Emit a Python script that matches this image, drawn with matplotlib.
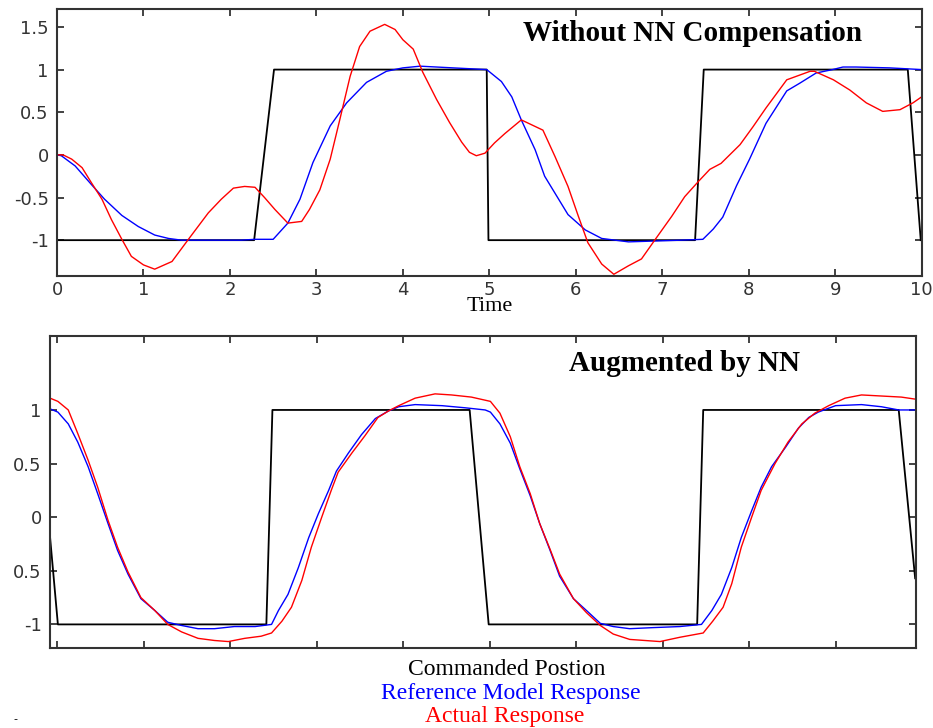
import numpy as np
import matplotlib
matplotlib.use('Agg')
import matplotlib.pyplot as plt

# top panel: without NN compensation
cmd1_t = [0, 2.28, 2.51, 4.97, 4.99, 7.38, 7.48, 9.84, 9.99]
cmd1_y = [-1, -1, 1, 1, -1, -1, 1, 1, -1]

ref1_t = [0, 0.05, 0.21, 0.40, 0.55, 0.75, 0.94, 1.13, 1.29, 1.44, 2.13, 2.29, 2.5, 2.67, 2.81, 2.96, 3.16, 3.35, 3.58, 3.81,
          4.0, 4.2, 4.58, 4.97, 5.14, 5.26, 5.37, 5.53, 5.64, 5.76, 5.91, 6.11, 6.30, 6.61, 7.22, 7.47, 7.59, 7.70, 7.86, 8.01,
          8.20, 8.44, 8.59, 8.78, 8.97, 9.09, 9.24, 9.63, 10.0]
ref1_y = [0, -0.01, -0.13, -0.35, -0.52, -0.71, -0.84, -0.94, -0.98, -1.0, -1.0, -0.99, -0.99, -0.80, -0.52, -0.09, 0.34, 0.61, 0.85, 0.98,
          1.02, 1.04, 1.02, 1.0, 0.86, 0.68, 0.41, 0.06, -0.25, -0.45, -0.70, -0.88, -0.98, -1.02, -1.0, -0.99, -0.87, -0.73, -0.36, -0.05,
          0.37, 0.75, 0.84, 0.96, 1.0, 1.03, 1.03, 1.02, 1.0]

act1_t = [0, 0.07, 0.17, 0.29, 0.40, 0.52, 0.63, 0.75, 0.86, 1.0, 1.13, 1.33, 1.52, 1.75, 1.9, 2.04, 2.17, 2.29, 2.40, 2.52,
          2.67, 2.83, 2.92, 3.04, 3.16, 3.27, 3.39, 3.50, 3.62, 3.79, 3.91, 4.0, 4.12, 4.23, 4.39, 4.54, 4.68, 4.77, 4.85, 4.95,
          5.06, 5.18, 5.37, 5.62, 5.76, 5.91, 6.03, 6.14, 6.30, 6.44, 6.61, 6.76, 6.92, 7.11, 7.26, 7.42, 7.55, 7.68, 7.90, 8.05,
          8.20, 8.44, 8.71, 8.76, 8.98, 9.17, 9.36, 9.55, 9.75, 9.90, 10.0]
act1_y = [0, 0, -0.05, -0.15, -0.33, -0.52, -0.76, -0.99, -1.19, -1.29, -1.34, -1.25, -0.99, -0.68, -0.52, -0.39, -0.37, -0.38, -0.50, -0.64,
          -0.80, -0.78, -0.64, -0.41, -0.05, 0.41, 0.92, 1.27, 1.45, 1.53, 1.47, 1.35, 1.24, 0.97, 0.65, 0.38, 0.15, 0.03, -0.01, 0.02,
          0.14, 0.25, 0.41, 0.29, -0.02, -0.37, -0.72, -1.03, -1.28, -1.40, -1.30, -1.22, -0.99, -0.72, -0.49, -0.31, -0.17, -0.10, 0.12, 0.33,
          0.55, 0.88, 0.98, 0.98, 0.88, 0.76, 0.61, 0.51, 0.53, 0.61, 0.68]

# bottom panel: augmented by NN
cmd2_t = [-0.08, 0.01, 2.42, 2.49, 4.77, 4.99, 7.40, 7.47, 9.73, 9.92]
cmd2_y = [-0.19, -1, -1, 1, 1, -1, -1, 1, 1, -0.57]

ref2_t = [-0.08, 0.01, 0.13, 0.24, 0.36, 0.47, 0.59, 0.70, 0.82, 0.97, 1.13, 1.28, 1.44, 1.63, 1.82, 2.05, 2.29, 2.48, 2.56, 2.67,
          2.79, 2.91, 3.02, 3.14, 3.23, 3.37, 3.52, 3.68, 3.83, 3.95, 4.14, 4.45, 4.72, 4.95, 5.01, 5.12, 5.24, 5.35, 5.47, 5.58,
          5.70, 5.81, 5.97, 6.12, 6.28, 6.43, 6.62, 6.89, 7.20, 7.45, 7.57, 7.68, 7.80, 7.91, 8.03, 8.14, 8.26, 8.42, 8.57, 8.69,
          8.80, 9.00, 9.30, 9.53, 9.73, 9.93]
ref2_y = [1.01, 0.98, 0.87, 0.70, 0.47, 0.22, -0.06, -0.31, -0.53, -0.76, -0.87, -0.98, -1.01, -1.04, -1.04, -1.02, -1.02, -1.0, -0.87, -0.72,
          -0.47, -0.19, 0.03, 0.25, 0.43, 0.60, 0.77, 0.92, 0.99, 1.03, 1.05, 1.04, 1.02, 1.0, 0.98, 0.87, 0.69, 0.45, 0.20, -0.06,
          -0.31, -0.55, -0.76, -0.87, -0.99, -1.02, -1.04, -1.03, -1.02, -1.0, -0.87, -0.72, -0.47, -0.19, 0.06, 0.28, 0.47, 0.65, 0.83, 0.93,
          0.98, 1.04, 1.05, 1.03, 1.0, 1.0]

act2_t = [-0.08, 0.01, 0.13, 0.24, 0.36, 0.47, 0.59, 0.70, 0.82, 0.97, 1.13, 1.28, 1.44, 1.63, 1.82, 1.98, 2.17, 2.36, 2.48, 2.60,
          2.71, 2.83, 2.94, 3.06, 3.17, 3.25, 3.41, 3.56, 3.71, 3.83, 3.95, 4.14, 4.37, 4.56, 4.79, 5.01, 5.12, 5.24, 5.35, 5.47,
          5.58, 5.70, 5.81, 5.97, 6.12, 6.28, 6.43, 6.62, 6.97, 7.20, 7.47, 7.58, 7.70, 7.80, 7.91, 8.03, 8.14, 8.30, 8.45, 8.61,
          8.76, 8.92, 9.11, 9.30, 9.53, 9.76, 9.93]
act2_y = [1.11, 1.08, 1.0, 0.78, 0.53, 0.28, -0.03, -0.28, -0.51, -0.75, -0.87, -1.0, -1.07, -1.13, -1.15, -1.16, -1.13, -1.11, -1.08, -0.97,
          -0.84, -0.59, -0.28, 0.0, 0.25, 0.42, 0.60, 0.76, 0.93, 0.99, 1.04, 1.11, 1.15, 1.14, 1.12, 1.08, 0.97, 0.75, 0.47, 0.22,
          -0.06, -0.30, -0.53, -0.76, -0.89, -1.01, -1.09, -1.14, -1.16, -1.12, -1.08, -0.97, -0.84, -0.62, -0.28, 0.0, 0.25, 0.50, 0.70, 0.87,
          0.97, 1.04, 1.11, 1.14, 1.13, 1.12, 1.10]

top_yticks = [-1, -0.5, 0, 0.5, 1, 1.5]
top_ylabels = ['-1', '-0.5', '0', '0.5', '1', '1.5']
bot_yticks = [-1, -0.5, 0, 0.5, 1]
bot_ylabels = ['-1', '0.5', '0', '0.5', '1']
xticks = list(range(0, 11))

serif = 'Liberation Serif'
fig = plt.figure(figsize=(9.33, 7.28), dpi=100)
ax1 = fig.add_axes([0.0611, 0.6209, 0.9267, 0.3667])
ax2 = fig.add_axes([0.0536, 0.1099, 0.9282, 0.4286])

ax1.plot(cmd1_t, cmd1_y, color='black', lw=1.3)
ax1.plot(ref1_t, ref1_y, color='blue', lw=1.0)
ax1.plot(act1_t, act1_y, color='red', lw=1.0)
ax1.set_xlim(0, 10)
ax1.set_ylim(-1.42, 1.71)
ax1.set_xticks(xticks)
ax1.set_yticks(top_yticks)
ax1.set_yticklabels(top_ylabels)
ax1.set_xlabel('Time', family=serif, fontsize=16, labelpad=-1)
ax1.text(0.735, 0.91, 'Without NN Compensation', transform=ax1.transAxes, ha='center', va='center',
         family=serif, fontweight='bold', fontsize=21)

ax2.plot(cmd2_t, cmd2_y, color='black', lw=1.3)
ax2.plot(ref2_t, ref2_y, color='blue', lw=1.0)
ax2.plot(act2_t, act2_y, color='red', lw=1.0)
ax2.set_xlim(-0.081, 9.93)
ax2.set_ylim(-1.22, 1.69)
ax2.set_xticks(xticks[:10])
ax2.set_xticklabels([])
ax2.set_yticks(bot_yticks)
ax2.set_yticklabels(bot_ylabels)
ax2.text(0.733, 0.913, 'Augmented by NN', transform=ax2.transAxes, ha='center', va='center',
         family=serif, fontweight='bold', fontsize=21)

for ax in (ax1, ax2):
    ax.tick_params(direction='in', length=5, width=1.2, top=True, right=True, labelsize=13, colors='#222222')
    ax.tick_params(axis='y', pad=6)
    for lab in ax.get_xticklabels() + ax.get_yticklabels():
        lab.set_family('DejaVu Sans')
        lab.set_color('#333333')
    for s in ax.spines.values():
        s.set_linewidth(1.5)
        s.set_color('#333333')

fig.text(0.543, 0.080, 'Commanded Postion', ha='center', va='center', family=serif, fontsize=17, color='black')
fig.text(0.548, 0.048, 'Reference Model Response', ha='center', va='center', family=serif, fontsize=17, color='blue')
fig.text(0.541, 0.016, 'Actual Response', ha='center', va='center', family=serif, fontsize=17, color='red')
fig.text(0.017, 0.012, '-', ha='center', va='center', fontsize=8, color='black')

fig.savefig('out.png', dpi=100)
